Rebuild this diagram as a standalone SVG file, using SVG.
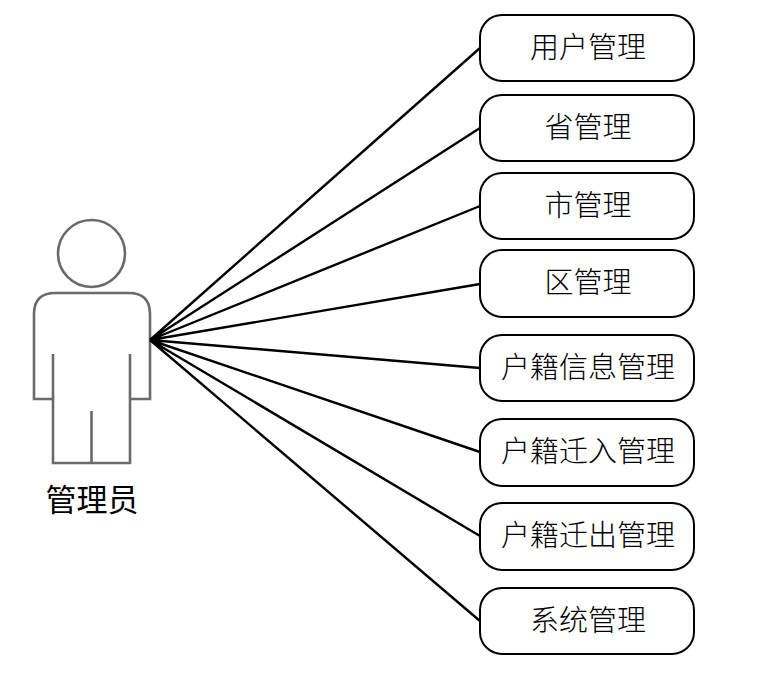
<svg xmlns="http://www.w3.org/2000/svg" width="775" height="699" viewBox="0 0 775 699">
<style>
.box{fill:#fff;stroke:#000;stroke-width:2}
.lbl{font-family:"Noto Sans CJK SC","Noto Sans CJK TC",sans-serif;font-size:29px;font-weight:300;fill:#000;text-anchor:middle}
.act{fill:none;stroke:#6a6a6a;stroke-width:2.6}
.con{fill:none;stroke:#000;stroke-width:2.4}
</style>
<rect width="775" height="699" fill="#fff"/>
<g id="actor">
<circle class="act" cx="91.500" cy="253.500" r="33.500"/>
<path class="act" d="M53 354V399H34V314Q34 293 55 293H129Q150 293 150 314V399H130V354M53 399V463H130V399M91.500 411V463"/>
<text x="92" y="511" style="font-family:'Noto Sans CJK SC',sans-serif;font-size:31px;font-weight:400;text-anchor:middle;fill:#000">管理员</text>
</g>
<g id="connectors">
<path class="con" d="M150 340L480 48M150 340L480 128M150 340L480 206M150 340L480 284M150 340L480 368M150 340L480 452M150 340L480 536M150 340L480 621"/>
</g>
<g id="n1"><rect class="box" x="480" y="15" width="214" height="66" rx="22"/><text class="lbl" x="588" y="58">用户管理</text></g>
<g id="n2"><rect class="box" x="480" y="95" width="214" height="66" rx="22"/><text class="lbl" x="588" y="138">省管理</text></g>
<g id="n3"><rect class="box" x="480" y="173" width="214" height="66" rx="22"/><text class="lbl" x="588" y="216">市管理</text></g>
<g id="n4"><rect class="box" x="480" y="250" width="214" height="67" rx="22"/><text class="lbl" x="588" y="293">区管理</text></g>
<g id="n5"><rect class="box" x="480" y="335" width="214" height="66" rx="22"/><text class="lbl" x="588" y="378">户籍信息管理</text></g>
<g id="n6"><rect class="box" x="480" y="419" width="214" height="67" rx="22"/><text class="lbl" x="588" y="462">户籍迁入管理</text></g>
<g id="n7"><rect class="box" x="480" y="503" width="214" height="67" rx="22"/><text class="lbl" x="588" y="546">户籍迁出管理</text></g>
<g id="n8"><rect class="box" x="480" y="588" width="214" height="66" rx="22"/><text class="lbl" x="588" y="631">系统管理</text></g>
</svg>
